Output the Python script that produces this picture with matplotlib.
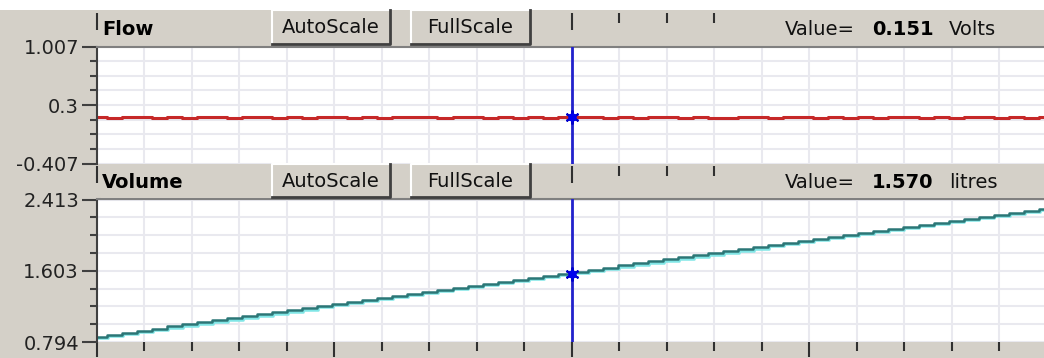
import matplotlib
matplotlib.use('Agg')
import matplotlib.pyplot as plt
import matplotlib.patheffects as pe
from matplotlib.patches import Rectangle
from matplotlib.lines import Line2D
from matplotlib.ticker import MultipleLocator, FixedLocator, NullFormatter
import numpy as np

W, H = 1044, 358
GRAY = '#d4d0c8'

# time axis in grid divisions, cursor position
x_max = 19.94
cursor_t = 10.0
sample_t0 = -0.11
sample_dt = 0.3165

flow = [0.151, 0.146, 0.151, 0.151, 0.145, 0.151, 0.148, 0.151, 0.151, 0.144,
        0.151, 0.151, 0.146, 0.151, 0.145, 0.151, 0.151, 0.147, 0.151, 0.144,
        0.151, 0.151, 0.151, 0.146, 0.151, 0.151, 0.145, 0.151, 0.148, 0.151,
        0.144, 0.151, 0.151, 0.151, 0.146, 0.151, 0.145, 0.151, 0.151, 0.147,
        0.151, 0.144, 0.145, 0.151, 0.151, 0.146, 0.151, 0.151, 0.145, 0.151,
        0.147, 0.151, 0.144, 0.151, 0.151, 0.146, 0.151, 0.145, 0.151, 0.151,
        0.148, 0.151, 0.144, 0.151]

volume = [0.855, 0.878, 0.901, 0.924, 0.947, 0.971, 0.994, 1.017, 1.040, 1.063,
          1.086, 1.109, 1.132, 1.155, 1.178, 1.202, 1.225, 1.248, 1.271, 1.294,
          1.317, 1.340, 1.363, 1.386, 1.409, 1.433, 1.456, 1.479, 1.502, 1.525,
          1.548, 1.571, 1.594, 1.617, 1.640, 1.664, 1.687, 1.710, 1.733, 1.756,
          1.779, 1.802, 1.825, 1.848, 1.871, 1.895, 1.918, 1.941, 1.964, 1.987,
          2.010, 2.033, 2.056, 2.079, 2.102, 2.126, 2.149, 2.172, 2.195, 2.218,
          2.241, 2.264, 2.287, 2.310]

flow_at_cursor = 0.151
volume_at_cursor = 1.570

flow_lim = (-0.407, 1.007)
flow_labels = ['-0.407', '0.3', '1.007']
volume_lim = (0.794, 2.413)
volume_labels = ['0.794', '1.603', '2.413']


def fx(x):
    return x / W


def fy(y):
    return 1 - y / H


fig = plt.figure(figsize=(W / 100, H / 100), dpi=100, facecolor=GRAY)
fig.add_artist(Rectangle((0, fy(10)), 1, 10 / H, transform=fig.transFigure,
                         facecolor='white', edgecolor='none'))


def make_panel(top, bottom, lim, labels, header_top):
    ax = fig.add_axes([fx(97), fy(bottom), fx(1044) - fx(97), fy(top) - fy(bottom)])
    ax.set_xlim(0, x_max)
    ax.set_ylim(*lim)
    lo, hi = lim
    ax.yaxis.set_major_locator(FixedLocator([lo, (lo + hi) / 2, hi]))
    ax.set_yticklabels(labels)
    ax.yaxis.set_minor_locator(FixedLocator(np.linspace(lo, hi, 9)))
    ax.xaxis.set_major_locator(MultipleLocator(5))
    ax.xaxis.set_minor_locator(MultipleLocator(1))
    ax.xaxis.set_major_formatter(NullFormatter())
    ax.grid(True, which='both', color='#e9e9ef', lw=1.5)
    ax.set_axisbelow(True)
    for s in ['right', 'bottom']:
        ax.spines[s].set_visible(False)
    ax.spines['top'].set_color('#808080')
    ax.spines['top'].set_linewidth(1.5)
    ax.spines['left'].set_color('#404040')
    ax.spines['left'].set_linewidth(1.5)
    ax.tick_params(axis='y', which='both', direction='out', color='#404040',
                   width=1.5, labelsize=14, labelcolor='#222222', pad=2)
    ax.tick_params(axis='y', which='major', length=11)
    ax.tick_params(axis='y', which='minor', length=5)
    # ticks shown in the header strip
    loc = (bottom - (header_top + 3)) / (bottom - top)
    sec = ax.secondary_xaxis(loc)
    sec.xaxis.set_major_locator(MultipleLocator(5))
    sec.xaxis.set_minor_locator(MultipleLocator(1))
    sec.tick_params(which='both', direction='in', color='#303030', width=1.5,
                    labeltop=False, labelbottom=False)
    sec.tick_params(which='major', length=12)
    sec.tick_params(which='minor', length=7)
    for s in sec.spines.values():
        s.set_visible(False)
    return ax


def button(x0, x1, y0, y1, label):
    fig.add_artist(Rectangle((fx(x0), fy(y1)), fx(x1) - fx(x0), fy(y0) - fy(y1),
                             transform=fig.transFigure, facecolor=GRAY, edgecolor='none'))
    tf = fig.transFigure
    fig.add_artist(Line2D([fx(x0), fx(x0), fx(x1)], [fy(y1), fy(y0), fy(y0)],
                          transform=tf, color='white', lw=1.5))
    fig.add_artist(Line2D([fx(x0), fx(x1), fx(x1)], [fy(y1), fy(y1), fy(y0)],
                          transform=tf, color='#404040', lw=2))
    fig.text(fx((x0 + x1) / 2), fy((y0 + y1) / 2 + 1), label, ha='center', va='center',
             fontsize=14, color='#111111')


def header(y0, y1, title, value, unit):
    for a, b in [(101, 272), (740, 1044)]:
        fig.add_artist(Rectangle((fx(a), fy(y1 - 2)), fx(b) - fx(a), fy(y0 + 1) - fy(y1 - 2),
                                 transform=fig.transFigure, facecolor=GRAY, edgecolor='none'))
    base = fy(y0 + 25)
    fig.text(fx(102), base, title, fontsize=14, fontweight='bold', va='baseline')
    button(272, 390, y0, y1 - 3, 'AutoScale')
    button(411, 530, y0, y1 - 3, 'FullScale')
    fig.text(fx(785), base, 'Value=', fontsize=14, va='baseline', color='#111111')
    fig.text(fx(872), base, value, fontsize=14, fontweight='bold', va='baseline')
    fig.text(fx(949), base, unit, fontsize=14, va='baseline', color='#111111')


ax1 = make_panel(46.5, 163.5, flow_lim, flow_labels, 10)
ax2 = make_panel(199.5, 342, volume_lim, volume_labels, 163)

t = sample_t0 + sample_dt * np.arange(len(volume) + 1)

ax1.plot(t, flow + flow[-1:], drawstyle='steps-post', color='#c62828', lw=2.2)
ax1.tick_params(axis='x', which='both', bottom=False)

ax2.plot(t, volume + volume[-1:], drawstyle='steps-post', color='#2b7676', lw=1.8,
         path_effects=[pe.SimpleLineShadow(offset=(0.6, -1.0), shadow_color='#80e6e6', alpha=1),
                       pe.Normal()])
ax2.tick_params(axis='x', which='both', direction='out', color='#303030', width=1.5, pad=0)
ax2.tick_params(axis='x', which='major', length=11)
ax2.tick_params(axis='x', which='minor', length=6.5)

for ax, v in [(ax1, flow_at_cursor), (ax2, volume_at_cursor)]:
    ax.axvline(cursor_t, color='#2222cc', lw=2, zorder=4)
    ax.plot([cursor_t], [v], marker=(6, 2, 0), ms=10, mec='#0000cc', mew=1.5, zorder=5)
    ax.plot([cursor_t], [v], marker='o', ms=5, color='#0000ee', zorder=5)

header(10, 46.5, 'Flow', '0.151', 'Volts')
header(163.5, 199.5, 'Volume', '1.570', 'litres')

fig.savefig('out.png', dpi=100, facecolor=GRAY)
